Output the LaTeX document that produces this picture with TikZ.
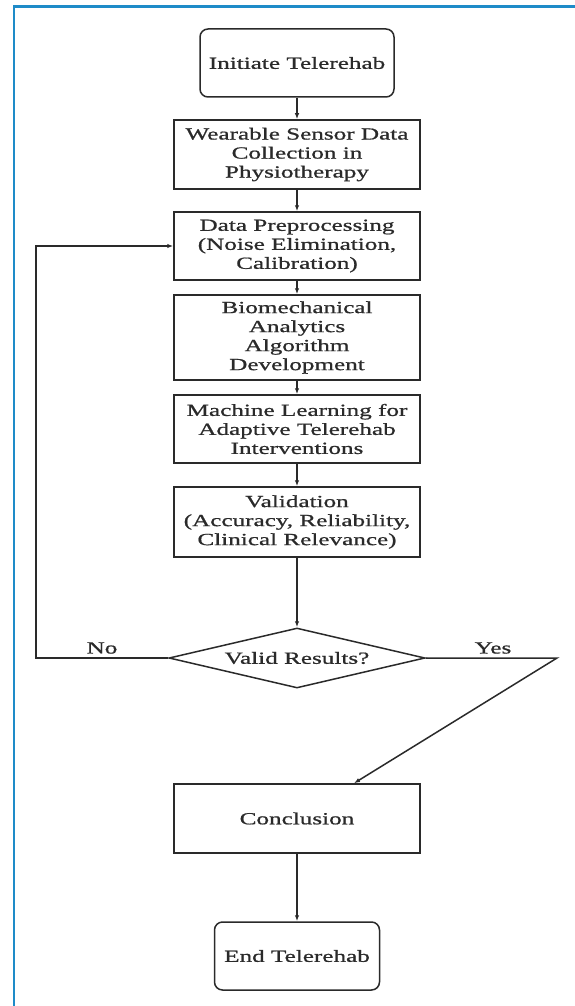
\documentclass[tikz,border=0pt]{standalone}
\usepackage{fontspec}
\setmainfont{Liberation Serif}[FakeStretch=1.48,FakeBold=0.9]
\usetikzlibrary{shapes.geometric,arrows.meta}
\definecolor{frameblue}{HTML}{1E8BC8}
\definecolor{ink}{HTML}{2A2A2A}
\begin{document}
\begin{tikzpicture}[x=1pt,y=1pt,
  every node/.style={font=\fontsize{17}{19}\selectfont, text=ink},
  box/.style={draw=ink, line width=1.5pt, rectangle, minimum width=246pt, inner sep=0pt, align=center},
  term/.style={box, rounded corners=8pt},
  arr/.style={draw=ink, line width=1.5pt, -{Latex[length=6pt,width=4.5pt]}},
  decision/.style={draw=ink, line width=1.5pt, diamond, aspect=4.27, inner sep=0pt, minimum width=256pt, minimum height=60pt}]
\useasboundingbox (0,0) rectangle (574,-1006);
\draw[frameblue, line width=2.5pt] (14,-1010) -- (14,-6.5) -- (580,-6.5);

\node[term, minimum width=194pt, minimum height=68pt] (start) at (297,-63) {Initiate Telerehab};
\node[box, minimum height=69pt] (wear) at (297,-154.5) {Wearable Sensor Data\\Collection in\\Physiotherapy};
\node[box, minimum height=68pt] (pre) at (297,-246) {Data Preprocessing\\(Noise Elimination,\\Calibration)};
\node[box, minimum height=85pt] (bio) at (297,-337.5) {Biomechanical\\Analytics\\Algorithm\\Development};
\node[box, minimum height=68pt] (ml) at (297,-429) {Machine Learning for\\Adaptive Telerehab\\Interventions};
\node[box, minimum height=70pt] (val) at (297,-522) {Validation\\(Accuracy, Reliability,\\Clinical Relevance)};
\node[decision] (dia) at (297,-658) {\makebox[0pt]{Valid Results?}};
\node[box, minimum height=69pt] (concl) at (297,-818.5) {Conclusion};
\node[term, minimum width=165pt, minimum height=68pt] (end) at (297,-956) {End Telerehab};

\coordinate (nl) at (36,-658);
\coordinate (yc) at (557,-658);
\node (no) at (102,-648) {No};
\node (yes) at (493,-648) {Yes};

\draw[arr] (start) -- (wear);
\draw[arr] (wear) -- (pre);
\draw[arr] (pre) -- (bio);
\draw[arr] (bio) -- (ml);
\draw[arr] (ml) -- (val);
\draw[arr] (val) -- (dia);
\draw[arr] (dia.west) -- (nl) |- (pre.west);
\draw[arr] (dia.east) -- (yc) -- ([xshift=57pt]concl.north);
\draw[arr] (concl) -- (end);
\end{tikzpicture}
\end{document}
